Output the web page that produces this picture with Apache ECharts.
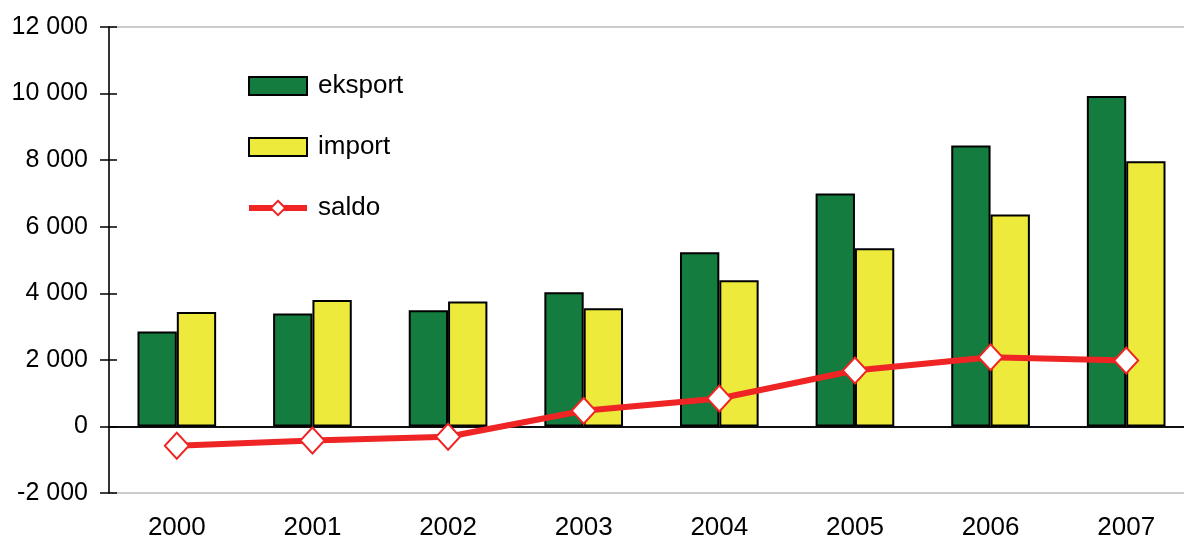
<!DOCTYPE html>
<html>
<head>
<meta charset="utf-8">
<script src="https://cdn.jsdelivr.net/npm/echarts@6/dist/echarts.min.js"></script>
<style>
    html, body { margin: 0; padding: 0; background: #fff; overflow: hidden; }
    /* plot runs a little past the right edge of the window */
    #chart { width: 1194px; height: 542px; }
</style>
</head>
<body>
<div id="chart"></div>
<script>
var years = ['2000', '2001', '2002', '2003', '2004', '2005', '2006', '2007'],
    eksport = [2850, 3390, 3490, 4030, 5230, 7000, 8440, 9930],
    importVals = [3440, 3800, 3750, 3550, 4390, 5350, 6370, 7970],
    saldo = [-580, -420, -310, 470, 840, 1680, 2080, 1980];

var FONT = '"Liberation Sans", Arial, sans-serif';

function fmt(v){
    // 12000 -> "12 000"
    var s = String(Math.abs(v)).replace(/\B(?=(\d{3})+(?!\d))/g, ' ');
    return (v < 0 ? '-' : '') + s;
}

var chart = echarts.init(document.getElementById('chart'));

var yBase = {
    type: 'value',
    min: -2000,
    max: 12000,
    interval: 2000,
    splitLine: { show: false }
};

var option = {
    animation: false,
    grid: {
        left: 109,
        top: 27,
        bottom: 49,
        right: 0,
        show: true,
        borderColor: '#999',
        borderWidth: 1
    },
    legend: {
        orient: 'vertical',
        left: 241,
        top: 68,
        itemWidth: 58,
        itemHeight: 18,
        itemGap: 35,
        textStyle: { fontFamily: FONT, fontSize: 26, color: '#000', padding: [0, 0, 0, 6] },
        data: [
            { name: 'eksport', icon: 'rect' },
            { name: 'import', icon: 'rect' },
            { name: 'saldo', lineStyle: { width: 6 } }
        ]
    },
    xAxis: [{
        type: 'category',
        data: years,
        axisLine: { onZero: true, lineStyle: { color: '#000', width: 1.5 } },
        axisTick: { length: 9, lineStyle: { color: '#000', width: 1.5 } },
        axisLabel: { show: false }
    }, {
        type: 'category',
        data: years,
        axisLine: { onZero: true, lineStyle: { color: '#000', width: 1.5 } },
        axisTick: { inside: true, length: 7, lineStyle: { color: '#000', width: 1.5 } },
        axisLabel: { show: false }
    }, {
        type: 'category',
        data: years,
        position: 'bottom',
        axisLine: { onZero: false, show: false },
        axisTick: { show: false },
        axisLabel: { margin: 22, fontFamily: FONT, fontSize: 26, color: '#000' }
    }],
    yAxis: [Object.assign({}, yBase, {
        axisLine: { show: true, lineStyle: { color: '#000', width: 1.5 } },
        axisTick: { show: true, length: 9, lineStyle: { color: '#000', width: 1.5 } },
        axisLabel: { margin: 21, fontFamily: FONT, fontSize: 25, color: '#000', formatter: fmt }
    }), Object.assign({}, yBase, {
        position: 'left',
        axisLine: { show: false },
        axisTick: { show: true, inside: true, length: 8, lineStyle: { color: '#000', width: 1.5 } },
        axisLabel: { show: false }
    })],
    series: [{
        name: 'eksport',
        type: 'bar',
        data: eksport,
        barWidth: '29%',
        barGap: '0%',
        itemStyle: { color: '#137c3e', borderColor: '#000', borderWidth: 2 }
    }, {
        name: 'import',
        type: 'bar',
        data: importVals,
        barWidth: '29%',
        barGap: '0%',
        itemStyle: { color: '#eeea3c', borderColor: '#000', borderWidth: 2 }
    }, {
        name: 'saldo',
        type: 'line',
        data: saldo,
        symbol: 'diamond',
        symbolSize: [24, 26],
        z: 5,
        lineStyle: { color: '#ee2524', width: 6 },
        itemStyle: { color: '#fff', borderColor: '#ee2524', borderWidth: 2 }
    }]
};

chart.setOption(option);
</script>
</body>
</html>
